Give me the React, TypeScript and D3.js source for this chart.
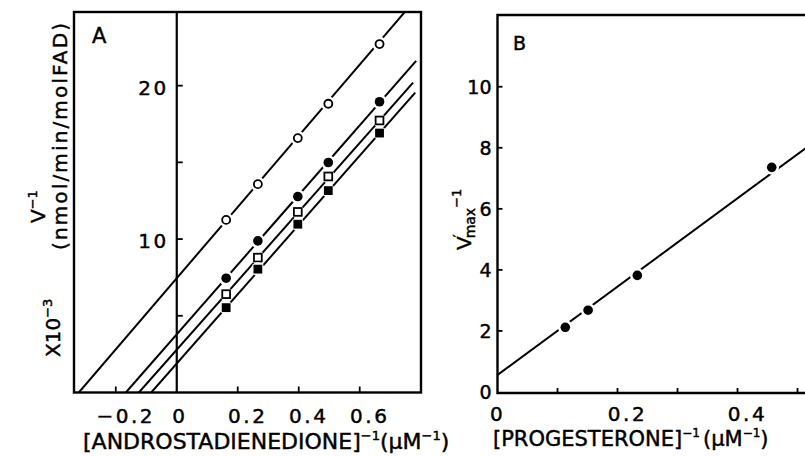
import * as d3 from "d3";

const FONT = "'DejaVu Sans', sans-serif";

// A: reciprocal of androstadienedione (µM^-1) vs V^-1
const substrateInv = [0.162, 0.266, 0.397, 0.497, 0.665];
const openCircleV = [11.25, 13.58, 16.58, 18.82, 22.71];
const filledCircleV = [7.45, 9.88, 12.77, 14.99, 18.95];
const openSquareV = [6.41, 8.79, 11.77, 14.08, 17.73];
const filledSquareV = [5.53, 8.04, 10.97, 13.16, 16.91];
const seriesKinds = ["openCircle", "filledCircle", "openSquare", "filledSquare"] as const;
const fitIntercept = [7.45, 3.79, 2.79, 1.89];
const fitSlope = [23.2, 22.7, 22.46, 22.58];
const fitEnd = [0.76, 0.785, 0.775, 0.782];
const xTicksA = [-0.2, 0, 0.2, 0.4, 0.6];
const xTickLabelsA = ["−0.2", "0", "0.2", "0.4", "0.6"];
const yTicksA = [5, 10, 15, 20];
const yTickLabelsA = ["", "10", "", "20"];

// B: reciprocal of progesterone vs V'max^-1
const progesteroneInv = [0.113, 0.151, 0.233, 0.457];
const vmaxInv = [2.12, 2.68, 3.82, 7.36];
const fitBIntercept = 0.56;
const fitBSlope = 14.46;
const xTicksB = [0, 0.1, 0.2, 0.3, 0.4, 0.5];
const xTickLabelsB = ["0", "", "0.2", "", "0.4", ""];
const yTicksB = [0, 2, 4, 6, 8, 10];

const seriesValues = [openCircleV, filledCircleV, openSquareV, filledSquareV];

function Marker({ kind, x, y }: { kind: string; x: number; y: number }) {
  const halo = kind.includes("Square") ? 6.8 : 7.3;
  return (
    <g>
      <circle cx={x} cy={y} r={halo} fill="white" />
      {kind === "openCircle" && (
        <circle cx={x} cy={y} r={4} fill="white" stroke="black" strokeWidth={1.8} />
      )}
      {kind === "filledCircle" && <circle cx={x} cy={y} r={4.8} fill="black" />}
      {kind === "openSquare" && (
        <rect x={x - 3.9} y={y - 3.9} width={7.8} height={7.8} fill="white" stroke="black" strokeWidth={1.8} />
      )}
      {kind === "filledSquare" && <rect x={x - 4.4} y={y - 4.4} width={8.8} height={8.8} fill="black" />}
    </g>
  );
}

export default function App() {
  // panel A geometry
  const xA = d3.scaleLinear().domain([-0.337, 0.801]).range([74, 421]);
  const yA = d3.scaleLinear().domain([0, 24.8]).range([392.5, 12]);
  // panel B geometry
  const xB = d3.scaleLinear().domain([0, 0.5133]).range([497.5, 805.5]);
  const yB = d3.scaleLinear().domain([0, 12.35]).range([392, 15]);

  const line = d3.line<[number, number]>();

  const fitLinesA = fitIntercept.map((b, i) => {
    const x0 = -b / fitSlope[i];
    const x1 = fitEnd[i];
    return line([
      [xA(x0), yA(0)],
      [xA(x1), yA(b + fitSlope[i] * x1)],
    ]);
  });
  const fitLineB = line([
    [xB(0), yB(fitBIntercept)],
    [xB(0.52), yB(fitBIntercept + fitBSlope * 0.52)],
  ]);

  // scanned print: slightly heavier glyphs
  const ink = { fill: "black", stroke: "black", strokeWidth: 0.45 } as const;
  const tickFont = { fontFamily: FONT, fontSize: 20, letterSpacing: 2.5, ...ink } as const;

  return (
    <div style={{ position: "fixed", left: 0, top: 0, background: "white" }}>
      <svg width={805} height={456} viewBox="0 0 805 456">
        <rect width={805} height={456} fill="white" />
        <defs>
          <clipPath id="clipA">
            <rect x={xA.range()[0]} y={yA.range()[1]} width={xA.range()[1] - xA.range()[0]} height={yA.range()[0] - yA.range()[1]} />
          </clipPath>
          <clipPath id="clipB">
            <rect x={xB.range()[0]} y={yB.range()[1]} width={320} height={yB.range()[0] - yB.range()[1]} />
          </clipPath>
        </defs>

        {/* Panel A */}
        <g clipPath="url(#clipA)">
          {fitLinesA.map((d, i) => (
            <path key={i} d={d ?? ""} stroke="black" strokeWidth={2} fill="none" />
          ))}
          {seriesValues.map((vals, s) =>
            vals.map((v, i) => (
              <Marker key={`${s}-${i}`} kind={seriesKinds[s]} x={xA(substrateInv[i])} y={yA(v)} />
            )),
          )}
        </g>
        <rect
          x={xA.range()[0]}
          y={yA.range()[1]}
          width={xA.range()[1] - xA.range()[0]}
          height={yA.range()[0] - yA.range()[1]}
          fill="none"
          stroke="black"
          strokeWidth={2.4}
        />
        <line x1={xA(0)} x2={xA(0)} y1={yA.range()[0]} y2={yA.range()[1]} stroke="black" strokeWidth={2.2} />
        {xTicksA
          .filter((t) => t !== 0)
          .map((t) => (
            <line key={t} x1={xA(t)} x2={xA(t)} y1={yA(0)} y2={yA(0) - 6} stroke="black" strokeWidth={1.8} />
          ))}
        {xTicksA.map((t, i) => (
          <text key={t} x={xA(t) + (t === 0 ? 3 : 10)} y={423} textAnchor="middle" {...tickFont}>
            {xTickLabelsA[i]}
          </text>
        ))}
        {yTicksA.map((t, i) => (
          <g key={t}>
            <line x1={xA(0)} x2={xA(0) + 6} y1={yA(t)} y2={yA(t)} stroke="black" strokeWidth={1.8} />
            <text x={xA(0) - 8} y={yA(t)} dy={9} textAnchor="end" {...tickFont}>
              {yTickLabelsA[i]}
            </text>
          </g>
        ))}
        <text x={92} y={43} fontFamily={FONT} fontSize={21} {...ink}>
          A
        </text>
        <text x={83} y={449} fontFamily={FONT} fontSize={22} {...ink}>
          [ANDROSTADIENEDIONE]
          <tspan fontSize={13} dy={-9}>
            −1
          </tspan>
          <tspan dy={9}>(μM</tspan>
          <tspan fontSize={13} dy={-9}>
            −1
          </tspan>
          <tspan dy={9}>)</tspan>
        </text>
        <text transform="translate(45,223) rotate(-90)" fontFamily={FONT} fontSize={20} {...ink}>
          V
          <tspan fontSize={13} dy={-8}>
            −1
          </tspan>
        </text>
        <text transform="translate(60,357) rotate(-90)" fontFamily={FONT} fontSize={20} {...ink}>
          X10
          <tspan fontSize={13} dy={-8}>
            −3
          </tspan>
        </text>
        <text transform="translate(67,250) rotate(-90)" fontFamily={FONT} fontSize={20} textLength={227} lengthAdjust="spacing" {...ink}>
          (nmol/min/molFAD)
        </text>

        {/* Panel B */}
        <g clipPath="url(#clipB)">
          <path d={fitLineB ?? ""} stroke="black" strokeWidth={2} fill="none" />
          {progesteroneInv.map((x, i) => (
            <Marker key={i} kind="filledCircle" x={xB(x)} y={yB(vmaxInv[i])} />
          ))}
        </g>
        <path
          d={`M820,${yB.range()[1]} H${xB(0)} V393 H820`}
          fill="none"
          stroke="black"
          strokeWidth={2.4}
        />
        {xTicksB
          .filter((t) => t !== 0)
          .map((t) => (
            <line key={t} x1={xB(t)} x2={xB(t)} y1={393} y2={388} stroke="black" strokeWidth={1.8} />
          ))}
        {xTicksB.map((t, i) => (
          <text key={t} x={xB(t) + (t === 0 ? 0 : 10)} y={421} textAnchor="middle" {...tickFont}>
            {xTickLabelsB[i]}
          </text>
        ))}
        {yTicksB.map((t) => (
          <g key={t}>
            {t !== 0 && <line x1={xB(0)} x2={xB(0) + 5} y1={yB(t)} y2={yB(t)} stroke="black" strokeWidth={1.8} />}
            <text x={xB(0) - 6} y={yB(t)} dy={7} textAnchor="end" fontFamily={FONT} fontSize={19} {...ink}>
              {t}
            </text>
          </g>
        ))}
        <text x={513} y={50} fontFamily={FONT} fontSize={19} {...ink}>
          B
        </text>
        <text x={493} y={446} fontFamily={FONT} fontSize={21} {...ink}>
          [PROGESTERONE]
          <tspan fontSize={12} dy={-9}>
            −1
          </tspan>
          <tspan dy={9} dx={3}>(μM</tspan>
          <tspan fontSize={12} dy={-9}>
            −1
          </tspan>
          <tspan dy={9}>)</tspan>
        </text>
        <text transform="translate(471,250) rotate(-90)" fontFamily={FONT} fontSize={20} {...ink}>
          V
          <tspan fontSize={13} dy={-9} dx={-1}>
            ′
          </tspan>
          <tspan fontSize={14} dy={13} dx={-4}>
            max
          </tspan>
          <tspan fontSize={13} dy={-14}>
            −1
          </tspan>
        </text>
      </svg>
    </div>
  );
}
